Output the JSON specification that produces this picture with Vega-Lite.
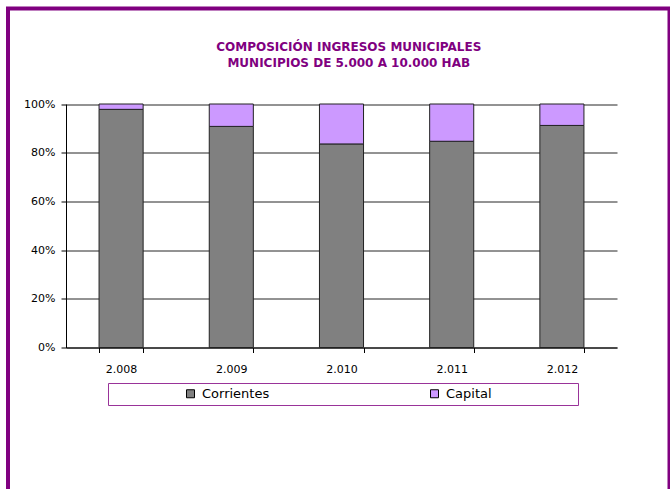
{
  "$schema": "https://vega.github.io/schema/vega-lite/v6.json",
  "width": 661.5,
  "height": 490,
  "autosize": {"type": "none"},
  "padding": {"left": 8, "top": 8.5, "right": 0, "bottom": 0},
  "background": "white",
  "config": {
    "view": {"stroke": "#800080", "strokeWidth": 4},
    "font": "DejaVu Sans"
  },
  "title": {
    "text": ["COMPOSICIÓN INGRESOS MUNICIPALES", "MUNICIPIOS DE 5.000 A 10.000 HAB"],
    "color": "#800080",
    "font": "DejaVu Sans",
    "fontSize": 12,
    "fontWeight": "bold",
    "anchor": "middle",
    "frame": "group",
    "baseline": "top",
    "offset": -61,
    "dx": 10,
    "lineHeight": 16
  },
  "data": {
    "values": [
      {"anio": "2.008", "serie": "Corrientes", "valor": 97.8},
      {"anio": "2.008", "serie": "Capital", "valor": 2.2},
      {"anio": "2.009", "serie": "Corrientes", "valor": 90.8},
      {"anio": "2.009", "serie": "Capital", "valor": 9.2},
      {"anio": "2.010", "serie": "Corrientes", "valor": 83.6},
      {"anio": "2.010", "serie": "Capital", "valor": 16.4},
      {"anio": "2.011", "serie": "Corrientes", "valor": 84.7},
      {"anio": "2.011", "serie": "Capital", "valor": 15.3},
      {"anio": "2.012", "serie": "Corrientes", "valor": 91.2},
      {"anio": "2.012", "serie": "Capital", "valor": 8.8}
    ]
  },
  "mark": {"type": "bar", "stroke": "#222222", "strokeWidth": 1},
  "encoding": {
    "x": {
      "field": "anio",
      "type": "nominal",
      "sort": null,
      "scale": {"range": [58, 609], "paddingInner": 0.6, "paddingOuter": 0.3},
      "axis": {
        "orient": "bottom",
        "offset": -151,
        "title": null,
        "labelAngle": 0,
        "tickBand": "extent",
        "tickSize": 5,
        "tickColor": "#000000",
        "domainColor": "#000000",
        "labelFont": "DejaVu Sans",
        "labelFontSize": 11,
        "labelColor": "#000000",
        "labelPadding": 11,
        "grid": false
      }
    },
    "y": {
      "field": "valor",
      "type": "quantitative",
      "stack": "normalize",
      "scale": {"domain": [0, 1], "range": [339, 95.5]},
      "axis": {
        "offset": -58,
        "title": null,
        "values": [0, 0.2, 0.4, 0.6, 0.8, 1],
        "format": ".0%",
        "grid": true,
        "gridColor": "#000000",
        "gridOpacity": 0.85,
        "tickSize": 5,
        "tickColor": "#000000",
        "domainColor": "#000000",
        "labelFont": "DejaVu Sans",
        "labelFontSize": 11,
        "labelColor": "#000000",
        "labelPadding": 6
      }
    },
    "color": {
      "field": "serie",
      "type": "nominal",
      "scale": {"domain": ["Corrientes", "Capital"], "range": ["#808080", "#CC99FF"]},
      "legend": {
        "orient": "none",
        "legendX": 100,
        "legendY": 374.5,
        "direction": "horizontal",
        "title": " ",
        "titleOrient": "right",
        "titlePadding": 82,
        "strokeColor": "#993399",
        "fillColor": "white",
        "padding": 4,
        "symbolType": "square",
        "symbolSize": 64,
        "symbolStrokeColor": "#000000",
        "symbolStrokeWidth": 1,
        "symbolOpacity": 1,
        "symbolOffset": 72,
        "columnPadding": 86,
        "labelFont": "DejaVu Sans",
        "labelFontSize": 13,
        "labelColor": "#000000",
        "labelOffset": 5
      }
    },
    "order": {"field": "serie", "sort": "descending"}
  }
}
